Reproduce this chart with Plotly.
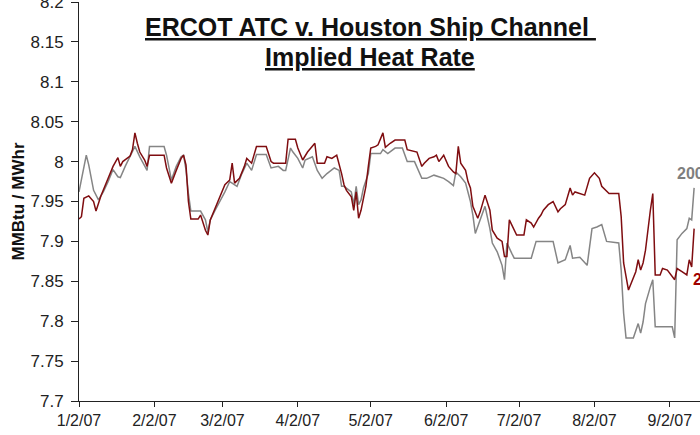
import plotly.graph_objects as go
import pandas as pd

# heat rate readings, MMBtu/MWhr (dates are 2007, month/day)
red_days = ["1/2", "1/3", "1/4", "1/6", "1/8", "1/9", "1/11", "1/13", "1/15", "1/16",
            "1/18", "1/19", "1/20", "1/23", "1/24", "1/25", "1/26", "1/27", "1/29", "1/30",
            "1/31", "2/6", "2/7", "2/9", "2/11", "2/13", "2/14", "2/15", "2/16", "2/17",
            "2/20", "2/21", "2/23", "2/24", "2/25", "2/27", "3/1", "3/3", "3/5", "3/6",
            "3/7", "3/9", "3/11", "3/12", "3/14", "3/16", "3/20", "3/21", "3/22", "3/23",
            "3/28", "3/29", "4/1", "4/2", "4/4", "4/6", "4/9", "4/10", "4/13", "4/14",
            "4/16", "4/18", "4/19", "4/20", "4/21", "4/22", "4/24", "4/25", "4/26", "4/27",
            "4/28", "4/30", "5/1", "5/2", "5/4", "5/5", "5/7", "5/8", "5/10", "5/12",
            "5/16", "5/17", "5/21", "5/23", "5/24", "5/26", "5/28", "5/29", "5/30", "6/1",
            "6/3", "6/5", "6/6", "6/7", "6/8", "6/10", "6/11", "6/12", "6/13", "6/15",
            "6/16", "6/18", "6/20", "6/21", "6/23", "6/25", "6/26", "6/27", "6/28", "6/29",
            "7/1", "7/4", "7/5", "7/7", "7/8", "7/10", "7/11", "7/12", "7/14", "7/16",
            "7/18", "7/19", "7/21", "7/23", "7/24", "7/25", "7/27", "7/29", "7/31", "8/2",
            "8/4", "8/5", "8/8", "8/12", "8/13", "8/14", "8/16", "8/17", "8/19", "8/20",
            "8/21", "8/22", "8/23", "8/25", "8/26", "8/27", "8/29", "8/30", "9/1", "9/4",
            "9/5", "9/7", "9/9", "9/10", "9/11", "9/12"]
red_values = [7.928, 7.931, 7.954, 7.957, 7.950, 7.938, 7.957, 7.971, 7.986, 7.994,
              8.005, 7.994, 8.000, 8.007, 8.015, 8.036, 8.023, 8.012, 8.002, 7.994,
              8.008, 8.008, 7.992, 7.973, 7.989, 8.004, 8.008, 7.996, 7.950, 7.928,
              7.928, 7.933, 7.914, 7.908, 7.927, 7.941, 7.956, 7.971, 7.977, 7.998,
              7.973, 7.979, 7.994, 8.004, 7.998, 8.019, 8.019, 8.008, 8.000, 7.998,
              7.998, 8.028, 8.028, 8.017, 8.002, 8.012, 8.023, 7.998, 7.998, 8.006,
              8.004, 8.008, 7.998, 7.985, 7.971, 7.964, 7.956, 7.939, 7.962, 7.929,
              7.939, 7.969, 7.994, 8.017, 8.019, 8.021, 8.036, 8.018, 8.023, 8.027,
              8.027, 8.015, 8.012, 7.994, 7.998, 8.004, 8.006, 8.008, 8.000, 8.008,
              7.994, 7.987, 7.985, 8.019, 7.998, 7.989, 7.975, 7.967, 7.944, 7.929,
              7.937, 7.958, 7.939, 7.914, 7.904, 7.900, 7.881, 7.881, 7.927, 7.921,
              7.908, 7.908, 7.927, 7.923, 7.918, 7.929, 7.933, 7.939, 7.946, 7.950,
              7.937, 7.941, 7.946, 7.967, 7.958, 7.962, 7.960, 7.958, 7.979, 7.986,
              7.979, 7.969, 7.960, 7.960, 7.931, 7.873, 7.839, 7.847, 7.862, 7.877,
              7.864, 7.873, 7.889, 7.939, 7.960, 7.858, 7.858, 7.866, 7.864, 7.852,
              7.866, 7.862, 7.858, 7.877, 7.868, 7.916]

gray_days = ["1/2", "1/5", "1/6", "1/8", "1/10", "1/12", "1/14", "1/16", "1/18", "1/19",
             "1/21", "1/23", "1/25", "1/27", "1/30", "1/31", "2/6", "2/7", "2/9", "2/11",
             "2/13", "2/14", "2/15", "2/16", "2/17", "2/21", "2/23", "2/24", "2/25", "2/27",
             "3/1", "3/3", "3/5", "3/7", "3/8", "3/10", "3/12", "3/14", "3/16", "3/20",
             "3/22", "3/25", "3/27", "3/28", "3/30", "3/31", "4/2", "4/4", "4/5", "4/8",
             "4/10", "4/12", "4/14", "4/17", "4/19", "4/20", "4/21", "4/24", "4/25", "4/26",
             "4/27", "4/28", "4/29", "5/1", "5/2", "5/6", "5/7", "5/9", "5/12", "5/15",
             "5/17", "5/20", "5/23", "5/25", "5/28", "5/30", "6/1", "6/3", "6/5", "6/6",
             "6/8", "6/10", "6/12", "6/13", "6/14", "6/16", "6/18", "6/20", "6/21", "6/23",
             "6/25", "6/26", "6/27", "6/29", "6/30", "7/7", "7/9", "7/16", "7/17", "7/18",
             "7/21", "7/23", "7/24", "7/27", "7/30", "8/1", "8/3", "8/5", "8/7", "8/12",
             "8/13", "8/14", "8/15", "8/18", "8/20", "8/21", "8/22", "8/23", "8/25", "8/26",
             "8/27", "9/3", "9/4", "9/5", "9/7", "9/9", "9/10", "9/11", "9/12"]
gray_values = [7.962, 8.008, 7.996, 7.964, 7.952, 7.962, 7.975, 7.990, 7.981, 7.980,
               7.994, 8.006, 8.019, 8.006, 7.989, 8.019, 8.019, 8.008, 7.977, 7.994,
               8.006, 8.008, 7.990, 7.960, 7.938, 7.938, 7.927, 7.912, 7.927, 7.939,
               7.950, 7.962, 7.975, 7.971, 7.969, 7.985, 7.998, 7.989, 8.009, 8.009,
               7.992, 7.994, 7.989, 7.989, 8.017, 8.012, 8.004, 7.992, 8.002, 8.006,
               7.989, 7.979, 7.985, 7.992, 7.989, 7.969, 7.969, 7.962, 7.946, 7.969,
               7.946, 7.952, 7.967, 7.985, 8.010, 8.010, 8.015, 8.010, 8.017, 8.017,
               8.000, 8.000, 7.979, 7.979, 7.983, 7.981, 7.979, 7.975, 7.970, 7.987,
               7.981, 7.973, 7.950, 7.933, 7.910, 7.927, 7.944, 7.916, 7.898, 7.887,
               7.870, 7.852, 7.898, 7.885, 7.879, 7.879, 7.900, 7.900, 7.885, 7.873,
               7.877, 7.895, 7.879, 7.880, 7.870, 7.916, 7.918, 7.921, 7.900, 7.898,
               7.864, 7.810, 7.779, 7.779, 7.797, 7.785, 7.799, 7.822, 7.843, 7.852,
               7.793, 7.793, 7.779, 7.902, 7.910, 7.916, 7.929, 7.927, 7.967]

tick_dates = ["2007-01-02", "2007-02-02", "2007-03-02", "2007-04-02", "2007-05-02",
              "2007-06-02", "2007-07-02", "2007-08-02", "2007-09-02"]
tick_labels = ["1/2/07", "2/2/07", "3/2/07", "4/2/07", "5/2/07",
               "6/2/07", "7/2/07", "8/2/07", "9/2/07"]
y_ticks = [7.7, 7.75, 7.8, 7.85, 7.9, 7.95, 8.0, 8.05, 8.1, 8.15, 8.2]
y_labels = ["7.7", "7.75", "7.8", "7.85", "7.9", "7.95", "8", "8.05", "8.1", "8.15", "8.2"]

red_x = pd.to_datetime(["2007/" + d for d in red_days], format="%Y/%m/%d")
gray_x = pd.to_datetime(["2007/" + d for d in gray_days], format="%Y/%m/%d")

GRAY = "#858585"
RED = "#7f0d10"

fig = go.Figure()
fig.add_trace(go.Scatter(x=gray_x, y=gray_values, mode="lines", name="2008",
                         line=dict(color=GRAY, width=1.5)))
fig.add_trace(go.Scatter(x=red_x, y=red_values, mode="lines", name="2009",
                         line=dict(color=RED, width=1.5)))

# title, two underlined lines
fig.add_annotation(x=0.4686, y=0.9373, xref="paper", yref="paper",
                   text="<b><u>ERCOT ATC v. Houston Ship Channel </u></b>",
                   showarrow=False, xanchor="center", yanchor="middle",
                   font=dict(size=25, color="#111"))
fig.add_annotation(x=0.4686, y=0.8622, xref="paper", yref="paper",
                   text="<b><u>Implied Heat Rate</u></b>",
                   showarrow=False, xanchor="center", yanchor="middle",
                   font=dict(size=25, color="#111"))

# end-of-line labels (cut off by the right edge, as in the original)
fig.add_annotation(x="2007-09-04", y=7.9845, text="<b>2008</b>", showarrow=False,
                   xanchor="left", yanchor="middle",
                   font=dict(size=16, color="#7f7f7f"))
fig.add_annotation(x="2007-09-10 14:00", y=7.852, text="<b>2009</b>", showarrow=False,
                   xanchor="left", yanchor="middle",
                   font=dict(size=16, color="#a00000"))

fig.update_layout(
    width=700, height=435,
    paper_bgcolor="white", plot_bgcolor="white",
    margin=dict(l=79, r=0, t=2, b=34),
    showlegend=False,
    font=dict(family="Liberation Sans, Arial, sans-serif", color="#222"),
)
fig.update_xaxes(type="date", range=["2007-01-02", "2007-09-14 10:00"],
                 tickvals=tick_dates, ticktext=tick_labels,
                 showline=True, linecolor="#222", linewidth=1,
                 ticks="outside", ticklen=5, tickcolor="#222",
                 showgrid=False, zeroline=False, tickfont=dict(size=16),
                 automargin=False)
fig.update_yaxes(range=[7.7, 8.2], tickvals=y_ticks, ticktext=y_labels,
                 showline=True, linecolor="#222", linewidth=1,
                 ticks="outside", ticklen=7, tickcolor="#222",
                 ticklabelstandoff=4, ticklabeloverflow="allow",
                 showgrid=False, zeroline=False, tickfont=dict(size=17),
                 automargin=False,
                 title=dict(text="<b>MMBtu / MWhr</b>", standoff=1,
                            font=dict(size=17, color="#111")))

fig.write_html("out.html", config={"displayModeBar": False},
               post_script="document.body.style.margin='0';")
